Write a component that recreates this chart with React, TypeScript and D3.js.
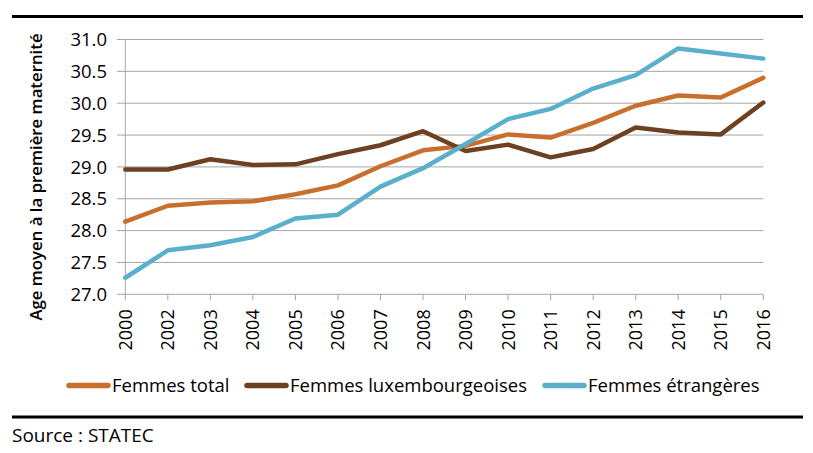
import React from "react";
import * as d3 from "d3";

const years = ["2000","2002","2003","2004","2005","2006","2007","2008","2009","2010","2011","2012","2013","2014","2015","2016"];
const femmesTotal = [28.14,28.39,28.44,28.46,28.57,28.71,29.01,29.26,29.33,29.51,29.46,29.69,29.96,30.12,30.09,30.40];
const femmesLux = [28.96,28.96,29.12,29.03,29.04,29.20,29.34,29.56,29.25,29.35,29.15,29.28,29.62,29.54,29.51,30.01];
const femmesEtr = [27.26,27.69,27.77,27.90,28.19,28.25,28.69,28.98,29.36,29.75,29.91,30.23,30.44,30.86,30.78,30.70];
const yTicks = [27.0,27.5,28.0,28.5,29.0,29.5,30.0,30.5,31.0];
const seriesNames = ["Femmes total","Femmes luxembourgeoises","Femmes étrangères"];
const seriesColors = ["#C96F2E","#6C4020","#5AAFCB"];
const yTitle = "Age moyen à la première maternité";
const sourceText = "Source : STATEC";

const W = 813, H = 453;
const FONT = "'Open Sans', sans-serif";

export default function App() {
  const x = d3.scalePoint<string>().domain(years).range([125.3, 763.3]);
  const y = d3.scaleLinear().domain([27, 31]).range([294.3, 39.5]);
  const line = d3.line<number>()
    .x((_, i) => x(years[i]) as number)
    .y((d) => y(d));
  const series = [femmesTotal, femmesLux, femmesEtr];
  const legendX = [67, 245, 543];
  const x0 = x(years[0]) as number;
  const x1 = x(years[years.length - 1]) as number;
  const grid = "#A5A5A5";

  return (
    <svg width={W} height={H} style={{ position: "absolute", left: 0, top: 0, background: "#fff" }} fontFamily={FONT}>
      <rect x={0} y={0} width={W} height={H} fill="#fff" />
      <line x1={12} x2={803} y1={16.5} y2={16.5} stroke="#000" strokeWidth={3.2} />
      <line x1={12} x2={803} y1={417} y2={417} stroke="#000" strokeWidth={3.2} />

      {yTicks.map((t) => (
        <g key={t}>
          <line x1={117} x2={t === 27 ? x0 : x1} y1={y(t)} y2={y(t)} stroke={grid} strokeWidth={1} />
          <text x={107} y={y(t)} dy="0.36em" textAnchor="end" fontSize={18.5} fill="#000">{t.toFixed(1)}</text>
        </g>
      ))}
      <line x1={x0} x2={x0} y1={y(31)} y2={y(27)} stroke={grid} strokeWidth={1} />
      <line x1={x0} x2={x1} y1={y(27)} y2={y(27)} stroke={grid} strokeWidth={1} />
      {years.map((yr) => {
        const px = x(yr) as number;
        return (
          <g key={yr}>
            <line x1={px} x2={px} y1={y(27)} y2={y(27) + 6} stroke={grid} strokeWidth={1} />
            <text transform={`translate(${px},${y(27) + 15}) rotate(-90)`} dy="0.36em" textAnchor="end" fontSize={18} fill="#000">{yr}</text>
          </g>
        );
      })}

      <text transform={`translate(42,177) rotate(-90)`} textAnchor="middle" fontSize={16.8} fontWeight={600} fill="#000">{yTitle}</text>

      {series.map((s, i) => (
        <path key={i} d={line(s) as string} fill="none" stroke={seriesColors[i]} strokeWidth={4.5} strokeLinejoin="round" strokeLinecap="round" />
      ))}

      {seriesNames.map((n, i) => (
        <g key={n}>
          <line x1={legendX[i] + 2} x2={legendX[i] + 41} y1={385.5} y2={385.5} stroke={seriesColors[i]} strokeWidth={5.5} strokeLinecap="round" />
          <text x={legendX[i] + 45} y={385.5} dy="0.36em" fontSize={18.5} fill="#000">{n}</text>
        </g>
      ))}

      <text x={12} y={442} fontSize={19} fill="#000">{sourceText}</text>
    </svg>
  );
}
